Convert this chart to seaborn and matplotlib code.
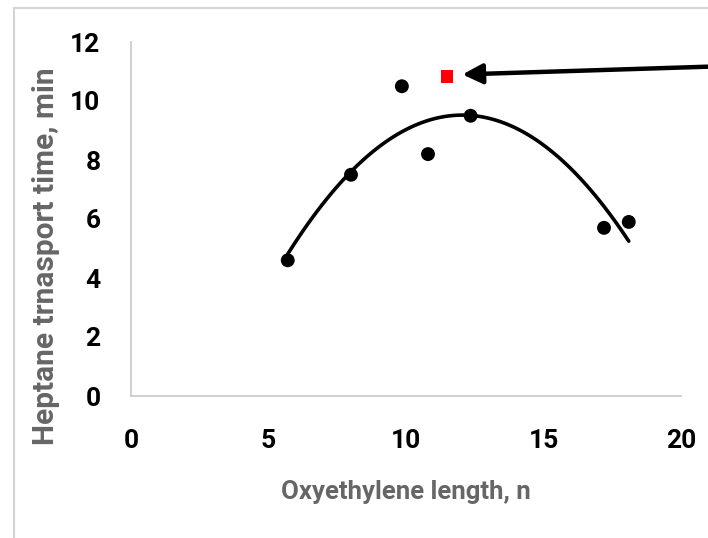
import matplotlib
matplotlib.use("Agg")
import matplotlib.pyplot as plt
import seaborn as sns
import numpy as np
import pandas as pd
from matplotlib.patches import Rectangle

# Data
oxy_length = [5.7, 8.0, 9.85, 10.8, 12.35, 17.2, 18.1]
transport_time = [4.6, 7.5, 10.5, 8.2, 9.5, 5.7, 5.9]
highlight_x = [11.5]
highlight_y = [10.83]
arrow_target = (12.05, 10.9)
x_ticks = [0, 5, 10, 15, 20]
y_ticks = [0, 2, 4, 6, 8, 10, 12]

sns.set_theme(style="white")
plt.rcParams['font.family'] = ['Roboto', 'DejaVu Sans']

df = pd.DataFrame({"n": oxy_length, "t": transport_time})

fig = plt.figure(figsize=(7.08, 5.38), dpi=100)
ax = fig.add_axes([131/708, 1-396/538, 550/708, 354/538])

sns.regplot(data=df, x="n", y="t", order=2, ci=None, ax=ax,
            scatter_kws=dict(s=100, color="black", edgecolor="none", alpha=1, zorder=3),
            line_kws=dict(color="black", lw=2.6, zorder=2))
sns.scatterplot(x=highlight_x, y=highlight_y, marker="s", color="#ff0000",
                s=80, edgecolor="none", ax=ax, zorder=4)

ax.set_xlim(0, 20)
ax.set_ylim(0, 12)
ax.set_xticks(x_ticks)
ax.set_yticks(y_ticks)
ax.tick_params(axis="both", length=0, labelsize=19, colors="black")
ax.tick_params(axis="x", pad=24)
ax.tick_params(axis="y", pad=22)
for lab in ax.get_xticklabels() + ax.get_yticklabels():
    lab.set_fontweight("bold")

for side in ["top", "right"]:
    ax.spines[side].set_visible(False)
for side in ["left", "bottom"]:
    ax.spines[side].set_color("#c8c8c8")
    ax.spines[side].set_linewidth(1.2)

ax.set_xlabel("Oxyethylene length, n", fontsize=18.5, fontweight="bold", color="#666666")
ax.set_ylabel("Heptane trnasport time, min", fontsize=21.5, fontweight="bold", color="#666666")
ax.xaxis.set_label_coords(0.5, -0.237)
ax.yaxis.set_label_coords(-0.129, 0.395)

ax.annotate("", xy=arrow_target, xycoords="data",
            xytext=(1.03, 1 - 66/538), textcoords="figure fraction",
            arrowprops=dict(arrowstyle="-|>,head_length=1.0,head_width=0.5",
                            color="black", lw=3.2, shrinkA=0, shrinkB=0),
            annotation_clip=False)

fig.add_artist(Rectangle((14/708, -0.1), 1.2, 1 - 8/538 + 0.1,
                         transform=fig.transFigure, fill=False,
                         edgecolor="#d4d4d4", lw=1.5))

fig.savefig("out.png", dpi=100)
